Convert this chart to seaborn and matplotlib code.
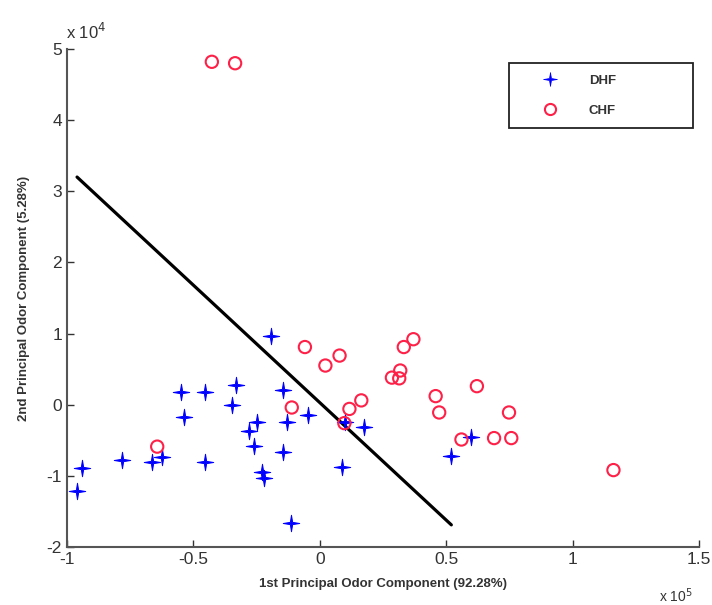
import numpy as np
import pandas as pd
import matplotlib
matplotlib.use("Agg")
import matplotlib.pyplot as plt
from matplotlib.lines import Line2D
from matplotlib.path import Path
import seaborn as sns

# values in units of 1e5 (x) and 1e4 (y)
dhf_x = [-0.548, -0.454, -0.33, -0.348, -0.539, -0.146, -0.194, -0.046, -0.247, -0.28,
         -0.129, -0.259, -0.146, -0.453, -0.625, -0.665, -0.782, -0.94, -0.962, -0.227,
         -0.219, -0.115, 0.088, 0.101, 0.173, 0.597, 0.517]
dhf_y = [0.18, 0.18, 0.27, 0.0, -0.17, 0.21, 0.96, -0.14, -0.25, -0.37,
         -0.25, -0.58, -0.67, -0.80, -0.73, -0.81, -0.78, -0.89, -1.22, -0.95,
         -1.03, -1.67, -0.87, -0.24, -0.32, -0.45, -0.72]
chf_x = [-0.427, -0.335, -0.059, 0.022, 0.078, -0.111, 0.117, 0.164, 0.097, 0.285,
         0.318, 0.314, 0.332, 0.37, 0.458, 0.472, 0.621, 0.56, 0.689, 0.757,
         0.748, 1.161, -0.643]
chf_y = [4.82, 4.80, 0.81, 0.55, 0.69, -0.04, -0.06, 0.06, -0.26, 0.38,
         0.48, 0.37, 0.81, 0.92, 0.12, -0.11, 0.26, -0.49, -0.47, -0.47,
         -0.11, -0.92, -0.59]
line_x = [-0.96, 0.52]
line_y = [3.2, -1.69]

x_ticks = [-1, -0.5, 0, 0.5, 1, 1.5]
x_tick_labels = ["-1", "-0.5", "0", "0.5", "1", "1.5"]
y_ticks = [-2, -1, 0, 1, 2, 3, 4, 5]
y_tick_labels = ["-2", "-1", "0", "1", "2", "3", "4", "5"]

sns.set_style("white")
plt.rcParams['font.family'] = ['Liberation Sans', 'DejaVu Sans']

fig = plt.figure(figsize=(7.12, 6.05), dpi=100)
ax = fig.add_axes([0.094, 0.096, 0.888, 0.823])

dhf = pd.DataFrame({"x": dhf_x, "y": dhf_y})
chf = pd.DataFrame({"x": chf_x, "y": chf_y})

w = 0.14
star_verts = [(0, 1), (w, w), (1, 0), (w, -w), (0, -1), (-w, -w), (-1, 0), (-w, w), (0, 1)]
star4 = Path(star_verts, [Path.MOVETO] + [Path.LINETO] * 7 + [Path.CLOSEPOLY])

blue = "#0000ff"
red = "#ff2048"

sns.lineplot(x=line_x, y=line_y, color="black", linewidth=2.3, ax=ax, zorder=1)
sns.scatterplot(data=dhf, x="x", y="y", marker=star4, s=140, color=blue,
                edgecolor=blue, linewidth=0.7, ax=ax, zorder=3)
sns.scatterplot(data=chf, x="x", y="y", marker="o", s=78, facecolors="none",
                edgecolors=red, linewidths=1.5, ax=ax, zorder=4)

ax.set_xlim(-1, 1.5)
ax.set_ylim(-2, 5)
ax.set_xticks(x_ticks)
ax.set_xticklabels(x_tick_labels)
ax.set_yticks(y_ticks)
ax.set_yticklabels(y_tick_labels)
ax.tick_params(direction="in", length=5, width=1, labelsize=12.5, colors="#333333",
               labelcolor="#333333", left=True, bottom=True)
for s in ["top", "right"]:
    ax.spines[s].set_visible(False)
for s in ["left", "bottom"]:
    ax.spines[s].set_color("#555555")
    ax.spines[s].set_linewidth(1.5)

ax.set_xlabel("1st Principal Odor Component (92.28%)", fontsize=9.5, fontweight="bold",
              color="#333333", labelpad=8)
ax.set_ylabel("2nd Principal Odor Component (5.28%)", fontsize=9.5, fontweight="bold",
              color="#333333", labelpad=12)

fig.text(0.093, 0.935, "x 10$^4$", fontsize=12, color="#333333")
fig.text(0.925, 0.005, "x 10$^5$", fontsize=10, color="#333333")

handles = [
    Line2D([], [], linestyle="none", marker=star4, markersize=10, color=blue,
           markeredgewidth=0.5),
    Line2D([], [], linestyle="none", marker="o", markersize=8, markerfacecolor="none",
           markeredgecolor=red, markeredgewidth=1.5),
]
# legend box in axes fraction: left 509px, top 63px, width 184px, height 62px
ax_left_px, ax_w_px, ax_top_px, ax_h_px = 67, 632, 49, 498
lx = (509 - ax_left_px) / ax_w_px
lw = 184 / ax_w_px
lh = 62 / ax_h_px
ly = (ax_top_px + ax_h_px - 63) / ax_h_px - lh
leg = ax.legend(handles, ["DHF", "CHF"], loc="upper left", bbox_to_anchor=(lx, ly, lw, lh),
                mode="expand", frameon=True, fancybox=False, edgecolor="#222222",
                prop={"weight": "bold", "size": 9.5}, borderpad=0.9, labelspacing=1.3,
                handletextpad=0.7, handlelength=4.45, borderaxespad=0)
leg.get_frame().set_linewidth(1.3)
leg.get_frame().set_alpha(1)
for t in leg.get_texts():
    t.set_color("#333333")

fig.savefig("out.png", dpi=100)
